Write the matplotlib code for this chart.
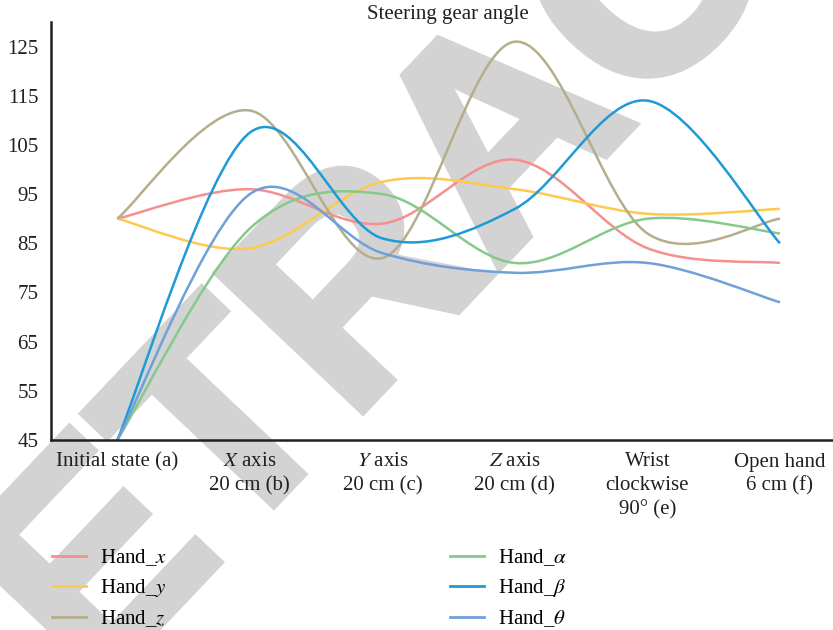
import numpy as np
import matplotlib
matplotlib.use("Agg")
import matplotlib.pyplot as plt
import matplotlib.patheffects as pe
from matplotlib.path import Path
from matplotlib.patches import PathPatch
from matplotlib.lines import Line2D

plt.rcParams['font.family'] = ['Liberation Serif', 'DejaVu Serif']
plt.rcParams['mathtext.fontset'] = 'stix'

categories = ["Initial state (a)", "$X$ axis\n20 cm (b)", "$Y$ axis\n20 cm (c)",
              "$Z$ axis\n20 cm (d)", "Wrist\nclockwise\n90° (e)", "Open hand\n6 cm (f)"]
hand_x = [90, 96, 89, 102, 84, 81]
hand_y = [90, 84, 97.5, 96, 91, 92]
hand_z = [90, 112, 82, 126, 87, 90]
hand_alpha = [45, 88, 95, 81, 90, 87]
hand_beta = [45, 107.5, 86, 92, 114, 85]
hand_theta = [45, 95, 83, 79, 81, 73]

series = [("Hand_$x$", hand_x, "#f4908e"),
          ("Hand_$y$", hand_y, "#ffc94f"),
          ("Hand_$z$", hand_z, "#b5ae8c"),
          ("Hand_$\\alpha$", hand_alpha, "#86c98a"),
          ("Hand_$\\beta$", hand_beta, "#1e9ad6"),
          ("Hand_$\\theta$", hand_theta, "#6fa0da")]


def smooth_path(xs, ys, t=1/6):
    # catmull-rom style bezier through the points (like excel smooth lines)
    p = np.column_stack([xs, ys]).astype(float)
    n = len(p)
    verts = [p[0]]
    codes = [Path.MOVETO]
    for i in range(n - 1):
        p0 = p[i - 1] if i > 0 else p[i]
        p3 = p[i + 2] if i + 2 < n else p[i + 1]
        c1 = p[i] + (p[i + 1] - p0) * t
        c2 = p[i + 1] - (p3 - p[i]) * t
        verts += [c1, c2, p[i + 1]]
        codes += [Path.CURVE4] * 3
    return Path(verts, codes)


fig = plt.figure(figsize=(8.33, 6.30), dpi=100)

# retraction watermark behind everything (stroke makes the letters heavier)
wm = "#d3d3d3"
fig.text(-52/833, 1 - 848/630, "RETRACTED", fontsize=210, fontweight="bold", color=wm,
         family="Liberation Sans", rotation=46.5, ha="left", va="baseline",
         rotation_mode="anchor", zorder=-1,
         path_effects=[pe.withStroke(linewidth=6, foreground=wm, joinstyle="miter")])

ax = fig.add_axes([51/833, 1 - 440/630, 1 - 51/833, (440 - 22)/630])
ax.set_facecolor("none")

xs = np.arange(len(categories))
handles = []
for name, vals, col in series:
    ax.add_patch(PathPatch(smooth_path(xs, vals), fill=False, edgecolor=col, lw=1.8))
    handles.append(Line2D([], [], color=col, lw=2, label=name))

ax.set_xlim(-0.5, 5.4)
ax.set_ylim(45, 130)
ax.set_yticks(np.arange(45, 126, 10))
ax.set_xticks(xs)
ax.set_xticklabels(categories, linespacing=1.32)
ax.tick_params(length=0, labelsize=15, colors="#231f20", pad=9)
ax.tick_params(axis="y", pad=9)
for s in ["top", "right"]:
    ax.spines[s].set_visible(False)
for s in ["left", "bottom"]:
    ax.spines[s].set_linewidth(1.8)
    ax.spines[s].set_color("#231f20")

fig.text(448/833, 1 - 15/630, "Steering gear angle", fontsize=15, ha="center", va="center",
         color="#231f20")

fig.legend(handles=handles, ncol=2, loc="upper left", bbox_to_anchor=(52/833, 1 - 547/630),
           frameon=False, fontsize=15, handlelength=1.63, handletextpad=0.67,
           columnspacing=13.6, labelspacing=0.45, borderpad=0, borderaxespad=0)

fig.savefig("out.png", dpi=100)
